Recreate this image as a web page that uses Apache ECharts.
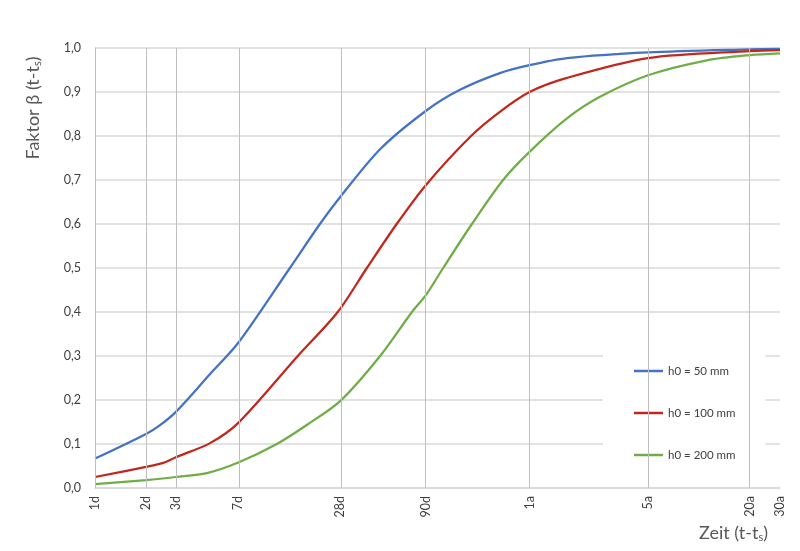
<!DOCTYPE html>
<html>
<head>
<meta charset="utf-8">
<script src="https://cdn.jsdelivr.net/npm/echarts@6/dist/echarts.min.js"></script>
<style>
  html, body { margin: 0; padding: 0; background: #fff; }
  #chart { width: 800px; height: 551px; }
</style>
</head>
<body>
<div id="chart"></div>
<script>
// Zeitpunkte der Achsenbeschriftung (in Tagen)
const tickDays = [1, 2, 3, 7, 28, 90, 365, 1825, 7300, 10950];
const tickLabels = ['1d', '2d', '3d', '7d', '28d', '90d', '1a', '5a', '20a', '30a'];

// h0 = 50 mm
const days50 = [1, 2, 2.42, 3, 4.77, 7, 14.1, 21.2, 28, 48, 90, 142, 244, 365, 607, 1825, 7300, 10950];
const beta50 = [0.067, 0.123, 0.143, 0.173, 0.259, 0.33, 0.5, 0.6, 0.662, 0.77, 0.858, 0.905, 0.943, 0.961, 0.977, 0.99, 0.997, 0.998];

// h0 = 100 mm
const days100 = [1, 2, 2.52, 3, 4.77, 7, 15.7, 27, 40.1, 60.1, 90, 165, 244, 365, 607, 1825, 7300, 10950];
const beta100 = [0.025, 0.048, 0.057, 0.07, 0.102, 0.148, 0.3, 0.4, 0.5, 0.6, 0.69, 0.8, 0.855, 0.9, 0.932, 0.977, 0.993, 0.995];

// h0 = 200 mm
const days200 = [1, 2, 3, 4.57, 7, 11.8, 18, 28, 48, 74, 90, 113, 167, 255, 365, 607, 950, 1825, 4058, 7300, 10950];
const beta200 = [0.009, 0.018, 0.025, 0.034, 0.058, 0.1, 0.145, 0.198, 0.3, 0.4, 0.44, 0.5, 0.6, 0.7, 0.764, 0.84, 0.889, 0.938, 0.972, 0.984, 0.988];

const seriesNames = ['h0 = 50 mm', 'h0 = 100 mm', 'h0 = 200 mm'];
const colors = ['#4472C4', '#C0281E', '#70AD47'];

function toPoints(days, beta) {
    return days.map(function (d, i) { return [Math.log10(d), beta[i]]; });
}

function tickLabel(v) {
    let best = 0;
    for (let i = 0; i < tickDays.length; i++) {
        if (Math.abs(Math.log10(tickDays[i]) - v) < Math.abs(Math.log10(tickDays[best]) - v)) best = i;
    }
    return tickLabels[best];
}

const tickPos = tickDays.map(function (d) { return Math.log10(d); });

function lineSeries(name, color, days, beta) {
    return {
        name: name,
        type: 'line',
        data: toPoints(days, beta),
        showSymbol: false,
        symbol: 'none',
        smooth: 0.3,
        z: 3,
        lineStyle: { color: color, width: 2.25 },
        itemStyle: { color: color }
    };
}

const chart = echarts.init(document.getElementById('chart'));

option = {
    animation: false,
    backgroundColor: '#fff',
    textStyle: { fontFamily: 'Lato, "Open Sans", sans-serif' },
    grid: { left: 95, right: 20, top: 48, bottom: 63 },
    legend: {
        data: seriesNames,
        orient: 'vertical',
        left: 603,
        top: 345,
        padding: [19, 30, 14, 31],
        itemGap: 28,
        itemWidth: 29,
        itemHeight: 2.5,
        icon: 'rect',
        backgroundColor: '#fff',
        textStyle: { fontSize: 11.5, color: '#404040', lineHeight: 14 }
    },
    xAxis: {
        type: 'value',
        min: 0,
        max: Math.log10(10950),
        splitLine: { show: false },
        axisTick: { show: false },
        axisLine: { show: true, lineStyle: { color: '#d9d9d9', width: 1.5 } },
        axisLabel: {
            customValues: tickPos,
            rotate: 90,
            margin: 8,
            fontSize: 12.5,
            color: '#404040',
            formatter: tickLabel
        }
    },
    yAxis: {
        type: 'value',
        min: 0,
        max: 1,
        interval: 0.1,
        axisLine: { show: true, lineStyle: { color: '#bfbfbf', width: 1 } },
        axisTick: { show: false },
        splitLine: { lineStyle: { color: '#d9d9d9', width: 1.5 } },
        axisLabel: {
            margin: 14,
            fontSize: 12.5,
            color: '#404040',
            formatter: function (v) { return v.toFixed(1).replace('.', ','); }
        }
    },
    graphic: [
        {
            type: 'text',
            x: 33,
            y: 108,
            rotation: Math.PI / 2,
            style: {
                text: 'Faktor β (t-t{s|s})',
                fontFamily: 'Lato, sans-serif',
                fontSize: 18,
                fill: '#595959',
                align: 'center',
                verticalAlign: 'middle',
                rich: { s: { fontSize: 11, fontFamily: 'Lato, sans-serif', fill: '#595959', padding: [9, 0, 0, 0] } }
            }
        },
        {
            type: 'text',
            x: 768,
            y: 533,
            style: {
                text: 'Zeit (t-t{s|s})',
                fontFamily: 'Lato, sans-serif',
                fontSize: 18,
                fill: '#595959',
                align: 'right',
                verticalAlign: 'middle',
                rich: { s: { fontSize: 11, fontFamily: 'Lato, sans-serif', fill: '#595959', padding: [9, 0, 0, 0] } }
            }
        }
    ],
    series: [
        {
            name: 'grid',
            type: 'line',
            data: [],
            z: 1,
            silent: true,
            markLine: {
                silent: true,
                symbol: 'none',
                label: { show: false },
                lineStyle: { color: '#bfbfbf', width: 1, type: 'solid' },
                data: tickPos.map(function (v) { return { xAxis: v }; })
            }
        },
        lineSeries(seriesNames[0], colors[0], days50, beta50),
        lineSeries(seriesNames[1], colors[1], days100, beta100),
        lineSeries(seriesNames[2], colors[2], days200, beta200)
    ]
};

chart.setOption(option);
</script>
</body>
</html>
